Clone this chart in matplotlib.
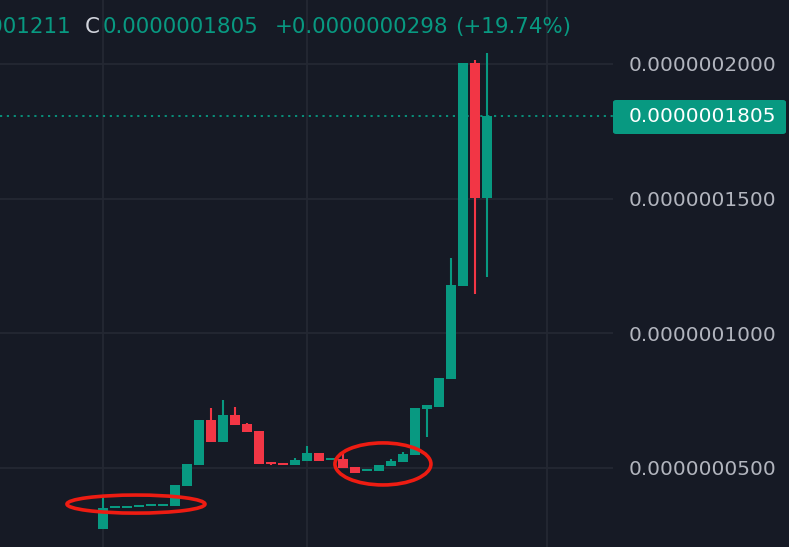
import matplotlib
matplotlib.use("Agg")
import matplotlib.pyplot as plt
from matplotlib.patches import Ellipse, FancyBboxPatch

# prices in units of 1e-7
SCALE = 1e-7
opens = [0.275, 0.352, 0.352, 0.355, 0.359, 0.359, 0.359, 0.433, 0.511, 0.678,
         0.597, 0.697, 0.663, 0.637, 0.522, 0.519, 0.511, 0.526, 0.556, 0.530,
         0.533, 0.504, 0.489, 0.489, 0.507, 0.522, 0.548, 0.719, 0.726, 0.830,
         1.176, 2.003, 1.502]
highs = [0.392, 0.359, 0.359, 0.363, 0.366, 0.366, 0.437, 0.515, 0.678, 0.723,
         0.752, 0.726, 0.667, 0.637, 0.522, 0.519, 0.537, 0.582, 0.556, 0.537,
         0.552, 0.504, 0.496, 0.511, 0.533, 0.559, 0.723, 0.734, 0.834, 1.280,
         2.003, 2.014, 2.040]
lows = [0.275, 0.352, 0.352, 0.355, 0.359, 0.359, 0.359, 0.433, 0.511, 0.597,
        0.597, 0.660, 0.634, 0.515, 0.511, 0.511, 0.511, 0.526, 0.526, 0.530,
        0.500, 0.481, 0.489, 0.489, 0.507, 0.522, 0.548, 0.615, 0.726, 0.830,
        1.176, 1.146, 1.209]
closes = [0.352, 0.359, 0.359, 0.363, 0.366, 0.366, 0.437, 0.515, 0.678, 0.597,
          0.697, 0.660, 0.634, 0.515, 0.515, 0.511, 0.530, 0.556, 0.526, 0.537,
          0.500, 0.481, 0.496, 0.511, 0.526, 0.552, 0.723, 0.734, 0.834, 1.179,
          2.003, 1.502, 1.805]
price_ticks = [0.5, 1.0, 1.5, 2.0]
time_grid = [0, 17, 37]
last_price = 1.805

BG = "#161a25"
GRID = "#242833"
GREEN = "#089981"
RED = "#f23645"
TEXT = "#b2b5be"

W, H = 789, 547
fig = plt.figure(figsize=(W / 100, H / 100), dpi=100, facecolor=BG)
ax = fig.add_axes([0, 0, 613 / W, 1], facecolor=BG)

for i, (o, h, l, c) in enumerate(zip(opens, highs, lows, closes)):
    col = GREEN if c >= o else RED
    ax.vlines(i, l, h, color=col, lw=1.5, zorder=3)
    lo, hi = min(o, c), max(o, c)
    ax.bar(i, max(hi - lo, 0.006), bottom=lo, width=0.83, color=col,
           linewidth=0, zorder=4)

ax.set_xlim(-8.58, 42.5)
ax.set_ylim(0.2067, 2.237)

for p in price_ticks:
    ax.axhline(p, color=GRID, lw=1.3, zorder=1)
for t in time_grid:
    ax.axvline(t, color=GRID, lw=1.3, zorder=1)

ax.axhline(last_price, color=GREEN, lw=1.3, linestyle=(0, (1.2, 2.6)), zorder=2)

# annotation ellipses
ax.add_patch(Ellipse((2.75, 0.366), 11.5, 0.067, fill=False, ec="#ee1c12",
                     lw=2.6, zorder=6))
ax.add_patch(Ellipse((23.33, 0.515), 8.0, 0.156, fill=False, ec="#ee1c12",
                     lw=2.6, zorder=6))

for s in ax.spines.values():
    s.set_visible(False)
ax.set_xticks([])
ax.yaxis.tick_right()
ax.set_yticks(price_ticks)
ax.set_yticklabels([f"{p * SCALE:.10f}" for p in price_ticks])
ax.tick_params(axis="y", length=0, pad=11.5, labelsize=14.4, labelcolor=TEXT)
for lab in ax.get_yticklabels():
    lab.set_horizontalalignment("left")

# last price label
ypix = 1 - 117 / H
box = FancyBboxPatch((613 / W, 1 - 134 / H), 173 / W, 34 / H,
                     boxstyle="round,pad=0,rounding_size=0.004",
                     transform=fig.transFigure, fc=GREEN, ec="none")
fig.patches.append(box)
fig.text(629 / W, ypix, f"{last_price * SCALE:.10f}", color="white",
         fontsize=14.4, va="center", ha="left")

# header (the low value is cut off at the left edge, like the original)
hy = 1 - 27 / H
fs = 15.4
fig.text(71 / W, hy, "0.0000001211", color=GREEN, fontsize=fs, va="center", ha="right")
fig.text(85 / W, hy, "C", color="#d1d4dc", fontsize=fs, va="center")
fig.text(103 / W, hy, f"{last_price * SCALE:.10f}", color=GREEN, fontsize=fs, va="center")
fig.text(275 / W, hy, "+0.0000000298", color=GREEN, fontsize=fs, va="center")
fig.text(455 / W, hy, "(+19.74%)", color=GREEN, fontsize=fs, va="center")

fig.savefig("out.png", dpi=100, facecolor=BG)
